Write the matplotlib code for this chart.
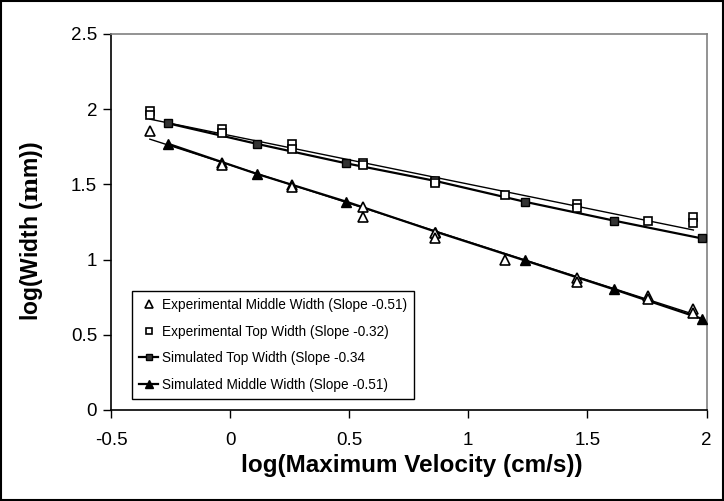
import matplotlib
matplotlib.use("Agg")
import matplotlib.pyplot as plt
import numpy as np
from matplotlib import font_manager
from matplotlib.patches import Rectangle

# ---------------- data ----------------
exp_mid_x = [-0.337, -0.035, -0.035, 0.261, 0.261, 0.557, 0.557, 0.86, 0.86,
             1.155, 1.457, 1.457, 1.755, 1.755, 1.945, 1.945]
exp_mid_y = [1.855, 1.645, 1.63, 1.496, 1.485, 1.352, 1.285, 1.175, 1.142,
             0.997, 0.876, 0.853, 0.758, 0.74, 0.67, 0.648]

exp_top_x = [-0.337, -0.337, -0.035, -0.035, 0.261, 0.261, 0.557, 0.557, 0.86, 0.86,
             1.155, 1.457, 1.457, 1.755, 1.945, 1.945]
exp_top_y = [1.99, 1.96, 1.87, 1.845, 1.769, 1.738, 1.64, 1.63, 1.525, 1.51,
             1.43, 1.368, 1.34, 1.259, 1.285, 1.245]

sim_x = [-0.26, 0.114, 0.488, 0.862, 1.236, 1.612, 1.98]
sim_top_y = [1.906, 1.769, 1.640, 1.523, 1.385, 1.259, 1.141]
sim_mid_y = [1.770, 1.569, 1.385, 1.186, 0.995, 0.802, 0.607]

# trend lines of the experimental series (slope, intercept)
exp_top_fit = [-0.323, 1.825]
exp_mid_fit = [-0.51, 1.629]

labels = ["Experimental Middle Width (Slope -0.51)",
          "Experimental Top Width (Slope -0.32)",
          "Simulated Top Width (Slope -0.34",
          "Simulated Middle Width (Slope -0.51)"]
x_ticks = [-0.5, 0, 0.5, 1, 1.5, 2]
y_ticks = [0, 0.5, 1, 1.5, 2, 2.5]
x_tick_labels = ["-0.5", "0", "0.5", "1", "1.5", "2"]
y_tick_labels = ["0", "0.5", "1", "1.5", "2", "2.5"]

# ---------------- fonts ----------------
avail = {f.name for f in font_manager.fontManager.ttflist}
fam = [f for f in ["Liberation Sans", "DejaVu Sans"] if f in avail]
plt.rcParams['font.family'] = fam
plt.rcParams['mathtext.fontset'] = 'dejavuserif'

fig = plt.figure(figsize=(7.24, 5.01), dpi=100)
ax = fig.add_axes([111/724, 1 - 410/501, 595.5/724, 376/501])

# experimental trend lines
fx = np.array([min(exp_top_x), max(exp_top_x)])
ax.plot(fx, exp_top_fit[0] * fx + exp_top_fit[1], color='black', lw=1.0, zorder=2)
fx2 = np.array([min(exp_mid_x), max(exp_mid_x)])
ax.plot(fx2, exp_mid_fit[0] * fx2 + exp_mid_fit[1], color='black', lw=1.0, zorder=2)

# experimental points
h1, = ax.plot(exp_mid_x, exp_mid_y, linestyle='none', marker='^', ms=6.5,
              mfc='white', mec='black', mew=1.2, zorder=4, label=labels[0])
h2, = ax.plot(exp_top_x, exp_top_y, linestyle='none', marker='s', ms=5.5,
              mfc='white', mec='black', mew=1.2, zorder=4, label=labels[1])
# simulated
h3, = ax.plot(sim_x, sim_top_y, color='black', lw=1.6, marker='s', ms=6,
              mfc='#333333', mec='black', mew=1.0, zorder=3, label=labels[2])
h4, = ax.plot(sim_x, sim_mid_y, color='black', lw=1.6, marker='^', ms=7.5,
              mfc='black', mec='black', zorder=3, label=labels[3])

ax.set_xlim(-0.5, 2)
ax.set_ylim(0, 2.5)
ax.set_xticks(x_ticks)
ax.set_xticklabels(x_tick_labels)
ax.set_yticks(y_ticks)
ax.set_yticklabels(y_tick_labels)
ax.tick_params(axis='both', direction='out', length=6, width=1.0, labelsize=13.5,
               colors='black')
ax.tick_params(axis='x', pad=10)
ax.tick_params(axis='y', pad=4)

for s in ['left', 'bottom']:
    ax.spines[s].set_color('black')
    ax.spines[s].set_linewidth(1.2)
for s in ['top', 'right']:
    ax.spines[s].set_color('#808080')
    ax.spines[s].set_linewidth(1.2)

ax.set_xlabel("log(Maximum Velocity (cm/s))", fontsize=17.5, fontweight='bold')
ax.set_ylabel(r"log(Width ($\mathbf{m}$m))", fontsize=16.5, fontweight='bold')
ax.xaxis.set_label_coords(0.505, -0.118)
ax.yaxis.set_label_coords(-0.11, 0.476)

leg = ax.legend(handles=[h1, h2, h3, h4], loc='lower left',
                bbox_to_anchor=(0.035, 0.029), fontsize=9.8, frameon=True,
                fancybox=False, shadow=False, borderpad=0.55, labelspacing=0.92,
                handlelength=1.35, handletextpad=0.3, borderaxespad=0,
                markerscale=0.8)
leg.get_frame().set_edgecolor('black')
leg.get_frame().set_linewidth(1.0)
leg.get_frame().set_alpha(1)

fig.patches.append(Rectangle((0.001, 0.001), 0.998, 0.998, transform=fig.transFigure,
                             fill=False, edgecolor='black', lw=1.5))

fig.savefig("out.png", dpi=100)
